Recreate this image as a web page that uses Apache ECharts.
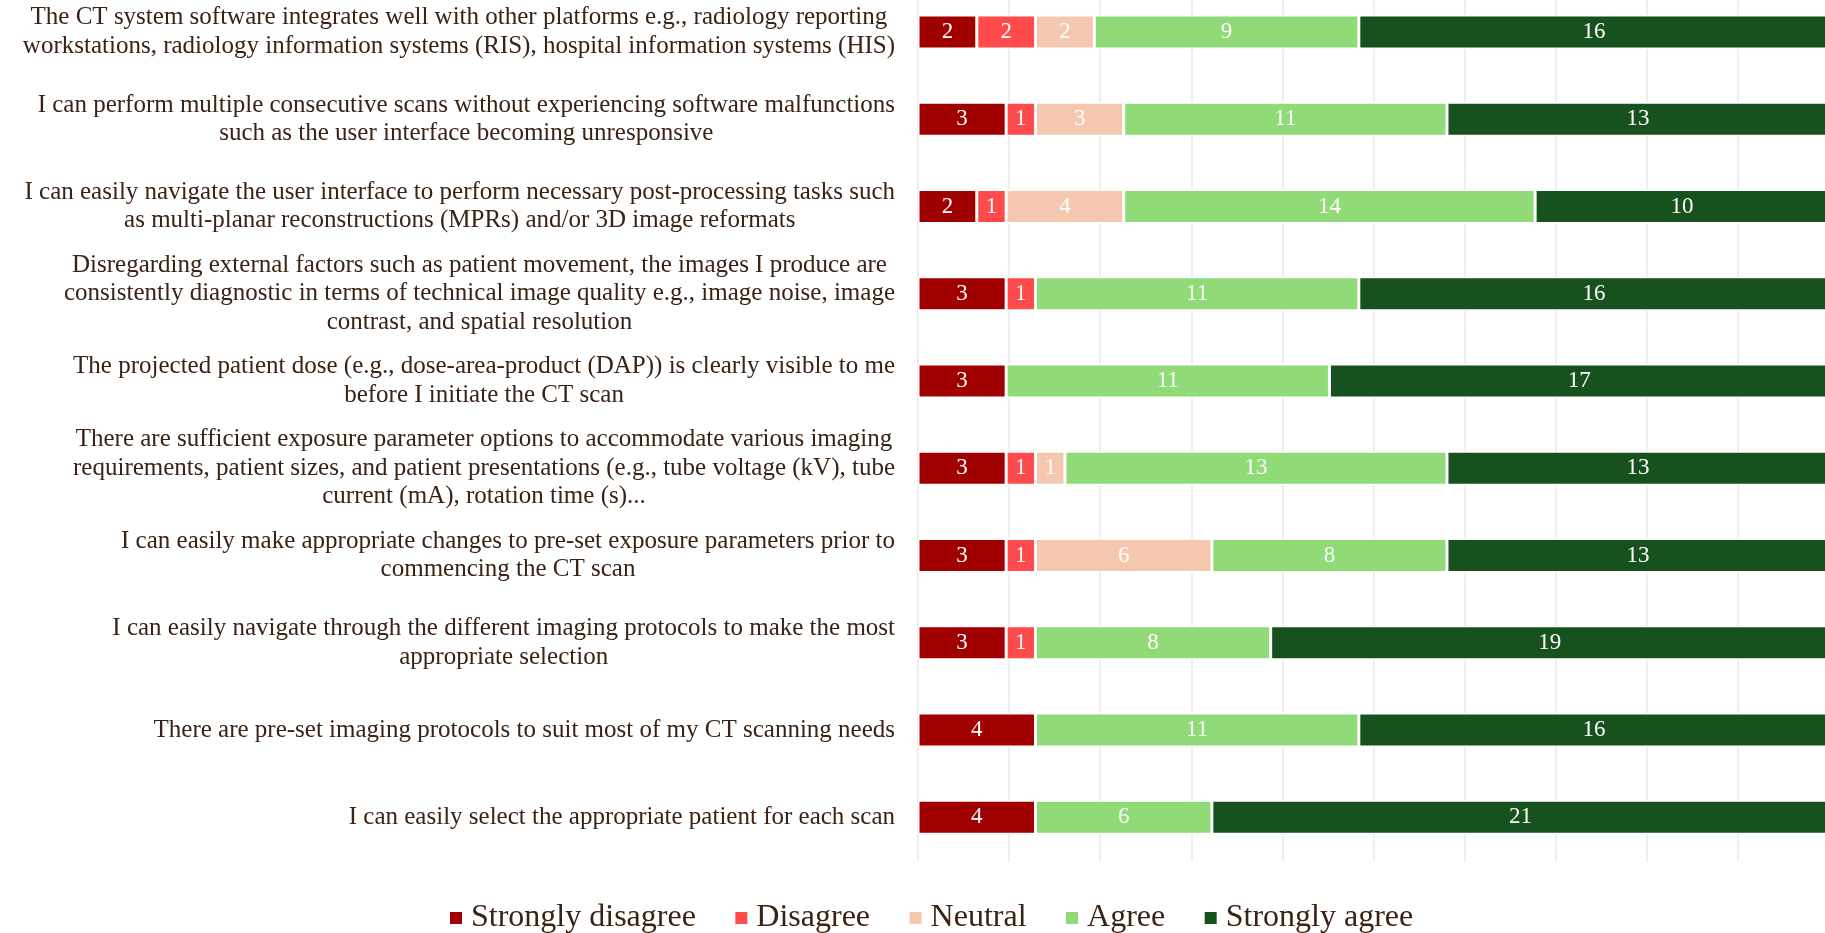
<!DOCTYPE html>
<html>
<head>
<meta charset="utf-8">
<script src="https://cdn.jsdelivr.net/npm/echarts@6/dist/echarts.min.js"></script>
<style>
html,body{margin:0;padding:0;background:#fff;}
#chart{width:1825px;height:933px;}
</style>
</head>
<body>
<div id="chart"></div>
<script>
const categories = [
  "The CT system software integrates well with other platforms e.g., radiology reporting\nworkstations, radiology information systems (RIS), hospital information systems (HIS)",
  "I can perform multiple consecutive scans without experiencing software malfunctions\nsuch as the user interface becoming unresponsive",
  "I can easily navigate the user interface to perform necessary post-processing tasks such\nas multi-planar reconstructions (MPRs) and/or 3D image reformats",
  "Disregarding external factors such as patient movement, the images I produce are\nconsistently diagnostic in terms of technical image quality e.g., image noise, image\ncontrast, and spatial resolution",
  "The projected patient dose (e.g., dose-area-product (DAP)) is clearly visible to me\nbefore I initiate the CT scan",
  "There are sufficient exposure parameter options to accommodate various imaging\nrequirements, patient sizes, and patient presentations (e.g., tube voltage (kV), tube\ncurrent (mA), rotation time (s)...",
  "I can easily make appropriate changes to pre-set exposure parameters prior to\ncommencing the CT scan",
  "I can easily navigate through the different imaging protocols to make the most\nappropriate selection",
  "There are pre-set imaging protocols to suit most of my CT scanning needs",
  "I can easily select the appropriate patient for each scan"
];
const seriesNames = ["Strongly disagree", "Disagree", "Neutral", "Agree", "Strongly agree"];
const stronglyDisagree = [2, 3, 2, 3, 3, 3, 3, 3, 4, 4];
const disagree         = [2, 1, 1, 1, 0, 1, 1, 1, 0, 0];
const neutral          = [2, 3, 4, 0, 0, 1, 6, 0, 0, 0];
const agree            = [9, 11, 14, 11, 11, 13, 8, 8, 11, 6];
const stronglyAgree    = [16, 13, 10, 16, 17, 13, 13, 19, 16, 21];
const colors = ["#A00000", "#FF4B4B", "#F6C7AF", "#90DA78", "#16511E"];
const axisMax = 31;
const axisInterval = 3.1;

const values = [stronglyDisagree, disagree, neutral, agree, stronglyAgree];
const serif = "'Liberation Serif', 'DejaVu Serif', serif";
const textColor = "#3a2214";

const chart = echarts.init(document.getElementById('chart'));
chart.setOption({
  animation: false,
  backgroundColor: '#ffffff',
  color: colors,
  grid: { left: 918, width: 911, top: -11.6, height: 872.6, containLabel: false, outerBoundsMode: 'none' },
  legend: {
    data: seriesNames,
    left: 443,
    top: 897,
    icon: 'rect',
    itemWidth: 14,
    itemHeight: 14,
    itemGap: 37.5,
    textStyle: { fontFamily: serif, fontSize: 32, color: textColor, padding: [0, 0, 0, 3] }
  },
  xAxis: {
    type: 'value',
    min: 0,
    max: axisMax,
    interval: axisInterval,
    axisLabel: { show: false },
    axisLine: { show: false },
    axisTick: { show: false },
    splitLine: { show: true, lineStyle: { color: '#e8e8e8', width: 1.5 } }
  },
  yAxis: {
    type: 'category',
    inverse: true,
    data: categories,
    axisLine: { show: false },
    axisTick: { show: false },
    axisLabel: {
      margin: 23,
      formatter: function (v) {
        return v.split('\n').map(function (l) { return '{c|' + l + '}'; }).join('\n');
      },
      rich: {
        c: { fontFamily: serif, fontSize: 25, color: textColor, lineHeight: 28.5, align: 'center' }
      }
    }
  },
  series: seriesNames.map(function (name, i) {
    return {
      name: name,
      type: 'bar',
      stack: 'total',
      barWidth: 34,
      itemStyle: { color: colors[i], borderColor: '#ffffff', borderWidth: 1.5 },
      label: {
        show: true,
        position: 'inside',
        color: '#ffffff',
        fontFamily: serif,
        fontSize: 23
      },
      data: values[i].map(function (v) { return v === 0 ? '-' : v; })
    };
  })
});
</script>
</body>
</html>
